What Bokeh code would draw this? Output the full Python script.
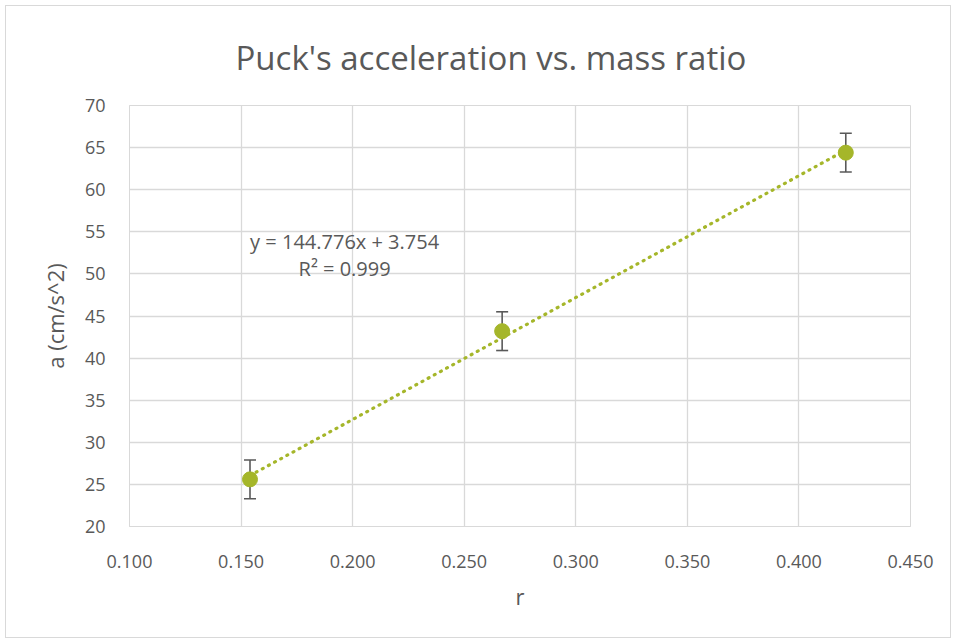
from bokeh.plotting import figure
from bokeh.models import ColumnDataSource, Whisker, TeeHead, Label, FixedTicker, Range1d
from bokeh.embed import file_html
from bokeh.resources import INLINE

# data
r_vals = [0.154, 0.267, 0.421]
a_vals = [25.6, 43.2, 64.4]
a_err = [2.3, 2.3, 2.3]
slope = 144.776
intercept = 3.754
r_squared = 0.999
x_ticks = [0.10, 0.15, 0.20, 0.25, 0.30, 0.35, 0.40, 0.45]
y_ticks = [20, 25, 30, 35, 40, 45, 50, 55, 60, 65, 70]
title_text = "Puck's acceleration vs. mass ratio"

FONT = "Open Sans"
TXT = "#595959"
GRID = "#D9D9D9"
GREEN = "#A5B62A"

src = ColumnDataSource(dict(
    r=r_vals, a=a_vals,
    upper=[a + e for a, e in zip(a_vals, a_err)],
    lower=[a - e for a, e in zip(a_vals, a_err)],
))

p = figure(width=946, height=633, output_backend="svg", toolbar_location=None,
           x_range=Range1d(0.1, 0.45), y_range=Range1d(20, 70),
           min_border_left=123, min_border_right=42, min_border_top=99, min_border_bottom=113,
           title=title_text)
p.styles = {"border": "1px solid #D9D9D9", "margin-left": "5px", "margin-top": "5px"}
p.outline_line_color = GRID
p.title.align = "left"
p.title.offset = 106
p.title.text_font = FONT
p.title.text_font_size = "33px"
p.title.text_font_style = "normal"
p.title.text_color = TXT
p.title.standoff = 51

for ax in (p.xaxis, p.yaxis):
    ax.axis_line_color = GRID
    ax.major_tick_line_color = None
    ax.minor_tick_line_color = None
    ax.major_label_text_font = FONT
    ax.major_label_text_font_size = "18px"
    ax.major_label_text_color = TXT
    ax.axis_label_text_font = FONT
    ax.axis_label_text_font_size = "22px"
    ax.axis_label_text_font_style = "normal"
    ax.axis_label_text_color = TXT

p.xaxis.ticker = FixedTicker(ticks=x_ticks)
p.yaxis.ticker = FixedTicker(ticks=y_ticks)
p.xaxis.major_label_overrides = {t: f"{t:.3f}" for t in x_ticks}
p.xaxis.axis_label = "r"
p.yaxis.axis_label = "a (cm/s^2)"
p.xaxis.major_label_standoff = 22
p.yaxis.major_label_standoff = 18
p.xaxis.axis_label_standoff = 10
p.yaxis.axis_label_standoff = 12

p.xgrid.ticker = FixedTicker(ticks=x_ticks)
p.ygrid.ticker = FixedTicker(ticks=y_ticks)
p.xgrid.grid_line_color = GRID
p.ygrid.grid_line_color = GRID
p.xgrid.grid_line_width = 1.3
p.ygrid.grid_line_width = 1.3

# trendline
x0, x1 = min(r_vals), max(r_vals)
p.line([x0, x1], [slope * x0 + intercept, slope * x1 + intercept],
       line_color=GREEN, line_width=3.2, line_dash="1 6", line_cap="round")

w = Whisker(source=src, base="r", upper="upper", lower="lower",
            line_color=TXT, line_width=1.6, level="underlay",
            upper_head=TeeHead(size=12, line_color=TXT, line_width=1.6),
            lower_head=TeeHead(size=12, line_color=TXT, line_width=1.6))
p.add_layout(w)

p.scatter("r", "a", source=src, size=15, fill_color=GREEN, line_color=GREEN)

eq = Label(x=0.1964, y=53.9, text=f"y = {slope:.3f}x + {intercept:.3f}",
           text_align="center", text_baseline="middle", text_font=FONT,
           text_font_size="20px", text_color=TXT)
r2 = Label(x=0.1964, y=50.6, text=f"R² = {r_squared:.3f}",
           text_align="center", text_baseline="middle", text_font=FONT,
           text_font_size="20px", text_color=TXT)
p.add_layout(eq)
p.add_layout(r2)

open("out.html", "w").write(file_html(p, INLINE))
